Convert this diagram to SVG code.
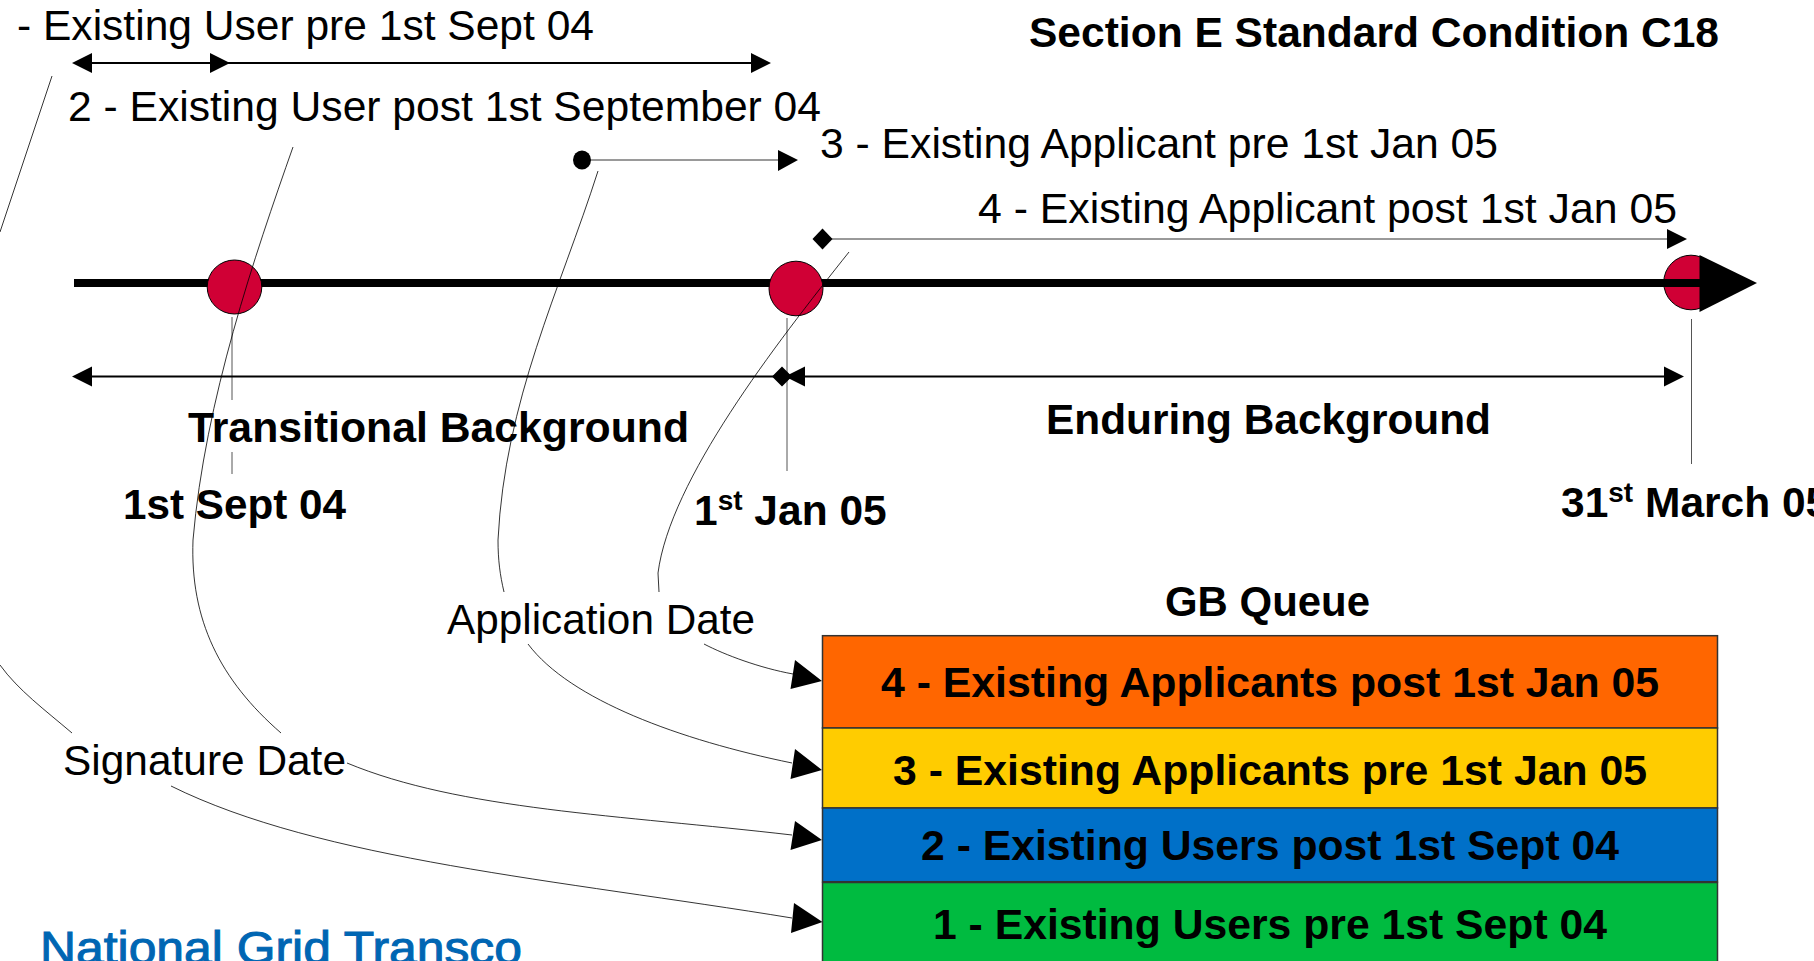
<svg xmlns="http://www.w3.org/2000/svg" width="1814" height="961" viewBox="0 0 1814 961">
<style>
text{font-family:"Liberation Sans",Arial,sans-serif;font-size:43px;fill:#000}
.b{font-weight:700}
.d{font-size:42.500px}
.s{font-size:28px}
.thin{fill:none;stroke:#000;stroke-width:.8}
.tick{fill:none;stroke:#555;stroke-width:1}
.med{fill:none;stroke:#000;stroke-width:2}
.band{stroke:#333;stroke-width:1.5}
.dot{fill:#d00035;stroke:#000;stroke-width:1}
</style>
<rect width="1814" height="961" fill="#fff"/>
<g id="timeline">
<circle class="dot" cx="1691" cy="282.500" r="27.300"/>
<line x1="74" y1="283" x2="1705" y2="283" stroke="#000" stroke-width="8"/>
<path d="M1699.500 255L1757 283L1699.500 312Z"/>
</g>
<g id="marker-sept"><ellipse class="dot" cx="234.500" cy="287" rx="27.300" ry="27"/></g>
<g id="marker-jan"><ellipse class="dot" cx="796" cy="288.500" rx="27" ry="27.300"/></g>
<g id="connectors">
<path class="tick" d="M232 317V400M232 452V474M787 318V471M1691.500 319V464"/>
<path class="med" d="M80 63H760M80 376.500H782M795 376.500H1674"/>
<path class="thin" d="M590 160H785M830 239H1675"/>
<path d="M72 63L92 53V73ZM230 63L210 53V73ZM771 63L751 53V73ZM798 160L778 150V171ZM1687 239L1667 229V249ZM72 376.500L92 366.500V386.500ZM772 376.500L782 366.500L792 376.500L782 386.500ZM785 376.500L805 366.500V386.500ZM1684 376.500L1664 366.500V386.500Z"/>
<ellipse cx="582" cy="160" rx="9" ry="9.500"/>
<path d="M812.500 239L822.500 228.500L832.500 239L822.500 249.500Z"/>
<path class="thin" d="M52 76L0 232M0 665C18 690 45 710 72 733M171 786C320 860 560 880 792 918"/>
<path class="thin" d="M293 147C255 255 205 400 193 540C190 620 220 680 281 733M347 763C460 810 620 815 792 835"/>
<path class="thin" d="M598 171C560 290 505 400 498 540C498 560 500 575 504 592M528 644C570 700 680 740 792 763"/>
<path class="thin" d="M849 252C775 345 670 480 658 573L659 592M704 644C725 655 760 668 793 674"/>
<path d="M822.500 922L794 903L791 933ZM822 840L795 821L790.500 850ZM822 770L795 749L790.500 779ZM822 681L795 660L790.500 689Z"/>
</g>
<g id="queue-4"><rect class="band" x="822.500" y="635.700" width="895" height="92.300" fill="#ff6600"/><text class="b" x="881" y="697" textLength="778" lengthAdjust="spacingAndGlyphs">4 - Existing Applicants post 1st Jan 05</text></g>
<g id="queue-3"><rect class="band" x="822.500" y="728" width="895" height="80" fill="#ffcc00"/><text class="b" x="893" y="785" textLength="754" lengthAdjust="spacingAndGlyphs">3 - Existing Applicants pre 1st Jan 05</text></g>
<g id="queue-2"><rect class="band" x="822.500" y="808" width="895" height="73.700" fill="#0070c8"/><text class="b" x="921" y="860" textLength="698" lengthAdjust="spacingAndGlyphs">2 - Existing Users post 1st Sept 04</text></g>
<g id="queue-1"><rect class="band" x="822.500" y="882.500" width="895" height="90" fill="#00bb40"/><text class="b" x="933" y="939" textLength="674" lengthAdjust="spacingAndGlyphs">1 - Existing Users pre 1st Sept 04</text></g>
<g id="labels">
<text x="17" y="40" textLength="577" lengthAdjust="spacingAndGlyphs">- Existing User pre 1st Sept 04</text>
<text x="68" y="121" textLength="753" lengthAdjust="spacingAndGlyphs">2 - Existing User post 1st September 04</text>
<text x="820" y="158" textLength="678" lengthAdjust="spacingAndGlyphs">3 - Existing Applicant pre 1st Jan 05</text>
<text x="978" y="223" textLength="699" lengthAdjust="spacingAndGlyphs">4 - Existing Applicant post 1st Jan 05</text>
<text class="b" x="1029" y="46.500" textLength="690" lengthAdjust="spacingAndGlyphs">Section E Standard Condition C18</text>
<text class="b" x="188" y="442" textLength="501" lengthAdjust="spacingAndGlyphs">Transitional Background</text>
<text class="b" x="1046" y="433.500" textLength="445" lengthAdjust="spacingAndGlyphs">Enduring Background</text>
<text class="b" x="123" y="519" textLength="223" lengthAdjust="spacingAndGlyphs">1st Sept 04</text>
<text class="b d" x="694" y="525">1<tspan class="s" dy="-15">st</tspan><tspan dy="15"> Jan 05</tspan></text>
<text class="b d" x="1561" y="516.500">31<tspan class="s" dy="-15">st</tspan><tspan dy="15"> March 05</tspan></text>
<text class="b" x="1165" y="616" textLength="205" lengthAdjust="spacingAndGlyphs">GB Queue</text>
<text x="447" y="634" textLength="308" lengthAdjust="spacingAndGlyphs">Application Date</text>
<text x="63" y="775" textLength="283" lengthAdjust="spacingAndGlyphs">Signature Date</text>
<text x="40" y="964" textLength="482" lengthAdjust="spacingAndGlyphs" style="font-size:46px;fill:#0066b3;stroke:#0066b3;stroke-width:1">National Grid Transco</text>
</g>
</svg>
